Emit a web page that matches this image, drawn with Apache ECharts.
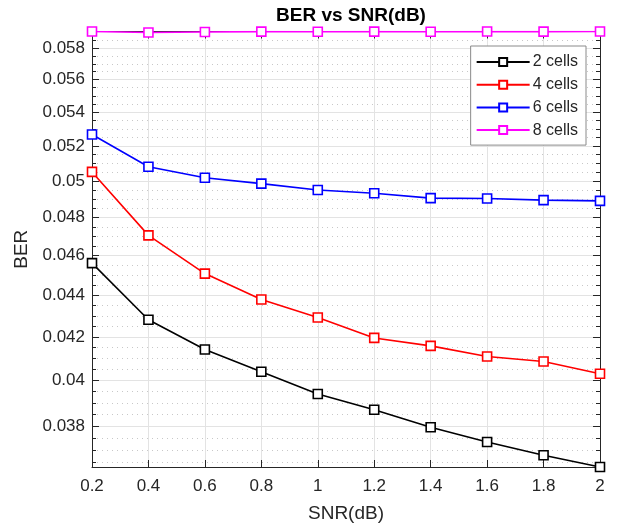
<!DOCTYPE html>
<html>
<head>
<meta charset="utf-8">
<script src="https://cdn.jsdelivr.net/npm/echarts@6/dist/echarts.min.js"></script>
<style>
  html, body { margin: 0; padding: 0; background: #fff; }
  #chart { width: 617px; height: 530px; }
</style>
</head>
<body>
<div id="chart"></div>
<script>
// SNR sweep (dB)
const snr = [0.2, 0.4, 0.6, 0.8, 1.0, 1.2, 1.4, 1.6, 1.8, 2.0];

// Bit error rate per cell count
const ber2 = [0.04561, 0.04281, 0.04141, 0.04039, 0.03940, 0.03871, 0.03796, 0.03734, 0.03679, 0.03631];
const ber4 = [0.05051, 0.04705, 0.04508, 0.04379, 0.04292, 0.04195, 0.04158, 0.04109, 0.04086, 0.04030];
const ber6 = [0.05267, 0.05080, 0.05018, 0.04985, 0.04950, 0.04932, 0.04905, 0.04903, 0.04894, 0.04890];
const ber8 = [0.05910, 0.05903, 0.05907, 0.05909, 0.05908, 0.05909, 0.05908, 0.05910, 0.05909, 0.05910];

const seriesNames = ['2 cells', '4 cells', '6 cells', '8 cells'];
const seriesColors = ['#000000', '#ff0000', '#0000ff', '#ff00ff'];

// Log-scale y ticks
const yMajorTicks = [0.038, 0.040, 0.042, 0.044, 0.046, 0.048, 0.050, 0.052, 0.054, 0.056, 0.058];
const yMinorTicks = [0.0365, 0.0370, 0.0375, 0.0385, 0.0390, 0.0395, 0.0405, 0.0410, 0.0415,
  0.0425, 0.0430, 0.0435, 0.0445, 0.0450, 0.0455, 0.0465, 0.0470, 0.0475, 0.0485, 0.0490, 0.0495,
  0.0505, 0.0510, 0.0515, 0.0525, 0.0530, 0.0535, 0.0545, 0.0550, 0.0555, 0.0565, 0.0570, 0.0575, 0.0585];

const yMin = 0.03631, yMax = 0.0591;
const FONT = '"Liberation Sans", Arial, Helvetica, sans-serif';
const AXIS_TEXT = '#262626';

const chart = echarts.init(document.getElementById('chart'));

function yAxisBase(position, ticks, tickLen, withLabels, splitStyle) {
  return {
    type: 'log',
    logBase: 10,
    min: yMin,
    max: yMax,
    position: position,
    axisLine: { show: true, onZero: false, lineStyle: { color: '#262626', width: 1 } },
    axisTick: { show: true, inside: true, length: tickLen, customValues: ticks,
      lineStyle: { color: '#262626', width: 1 } },
    axisLabel: withLabels ? {
      show: true, customValues: ticks, fontFamily: FONT, fontSize: 17, color: AXIS_TEXT, margin: 7
    } : { show: false },
    minorTick: { show: false },
    splitLine: splitStyle ? { show: true, lineStyle: splitStyle } : { show: false }
  };
}

const yAxes = [
  Object.assign(yAxisBase('left', yMajorTicks, 7, true, { color: '#e3e3e3', width: 1 }), {
    name: 'BER', nameLocation: 'middle', nameGap: 56, nameRotate: 90,
    nameTextStyle: { fontFamily: FONT, fontSize: 19, color: AXIS_TEXT }
  }),
  yAxisBase('left', yMinorTicks, 4, false, { color: '#c8c8c8', width: 1, type: [1, 4] }),
  yAxisBase('right', yMajorTicks, 7, false, null),
  yAxisBase('right', yMinorTicks, 4, false, null)
];

function xAxisBase(position, withLabels) {
  return {
    type: 'value',
    min: 0.2,
    max: 2,
    interval: 0.2,
    position: position,
    axisLine: { show: true, onZero: false, lineStyle: { color: '#262626', width: 1 } },
    axisTick: { show: true, inside: true, length: 7, lineStyle: { color: '#262626' } },
    axisLabel: withLabels ? {
      show: true, fontFamily: FONT, fontSize: 17, color: AXIS_TEXT, margin: 11,
      formatter: v => String(Math.round(v * 10) / 10)
    } : { show: false },
    splitLine: withLabels ? { show: true, lineStyle: { color: '#e3e3e3', width: 1 } } : { show: false }
  };
}

const xAxes = [
  Object.assign(xAxisBase('bottom', true), {
    name: 'SNR(dB)', nameLocation: 'middle', nameGap: 37,
    nameTextStyle: { fontFamily: FONT, fontSize: 19, color: AXIS_TEXT }
  }),
  xAxisBase('top', false)
];

const berData = [ber2, ber4, ber6, ber8];

const series = berData.map((vals, i) => ({
  name: seriesNames[i],
  type: 'line',
  xAxisIndex: 0,
  yAxisIndex: 0,
  data: snr.map((x, k) => [x, vals[k]]),
  symbol: 'rect',
  symbolSize: 9,
  showAllSymbol: true,
  itemStyle: { color: '#ffffff', borderColor: seriesColors[i], borderWidth: 1.6 },
  lineStyle: { color: seriesColors[i], width: 1.6 },
  emphasis: { disabled: true },
  animation: false,
  z: 3 + i
}));

chart.setOption({
  animation: false,
  backgroundColor: '#ffffff',
  title: {
    text: 'BER vs SNR(dB)',
    left: 346,
    textAlign: 'center',
    top: 1,
    textStyle: { fontFamily: FONT, fontSize: 19, fontWeight: 'bold', color: '#000' }
  },
  legend: {
    data: seriesNames,
    orient: 'vertical',
    right: 31,
    top: 46,
    itemWidth: 53,
    itemHeight: 10,
    itemGap: 6.7,
    padding: [8, 8, 7, 5],
    backgroundColor: '#ffffff',
    borderColor: '#8a8a8a',
    borderWidth: 1,
    textStyle: { fontFamily: FONT, fontSize: 16, color: AXIS_TEXT, padding: [0, 0, 0, -2] },
    selectedMode: false
  },
  grid: {
    left: 92, right: 17, top: 31.5, bottom: 63,
    outerBoundsMode: 'none', containLabel: false
  },
  xAxis: xAxes,
  yAxis: yAxes,
  series: series
});
</script>
</body>
</html>
